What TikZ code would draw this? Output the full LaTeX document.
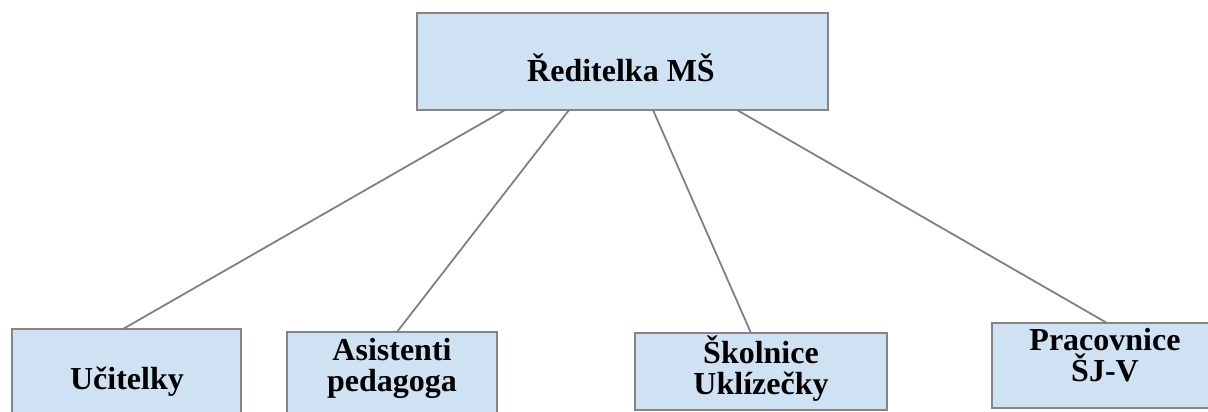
\documentclass[tikz,border=0pt]{standalone}
\usepackage{fontspec}
\setmainfont{Liberation Serif}
\usetikzlibrary{calc}
\definecolor{boxfill}{HTML}{CFE2F3}
\definecolor{boxline}{HTML}{858585}
\definecolor{conline}{HTML}{808080}
\begin{document}
\begin{tikzpicture}[x=1pt,y=1pt,
  orgbox/.style={draw=boxline,fill=boxfill,line width=2pt,rectangle,inner sep=0pt,outer sep=0pt},
  lbl/.style={font=\bfseries\fontsize{32}{31}\selectfont,align=center,inner sep=0pt,anchor=base},
  con/.style={draw=conline,line width=1.8pt}]
\useasboundingbox (0,0) rectangle (1208,412);
\clip (0,0) rectangle (1208,412);
% boxes (y_tikz = 412 - y_px)
\node[orgbox,minimum width=411pt,minimum height=97pt,anchor=south west] (top) at (417,302) {};
\node[orgbox,minimum width=229pt,minimum height=140pt,anchor=north west] (uc) at (12,83) {};
\node[orgbox,minimum width=210pt,minimum height=140pt,anchor=north west] (as) at (287,80) {};
\node[orgbox,minimum width=252pt,minimum height=77pt,anchor=north west] (sk) at (635,79) {};
\node[orgbox,minimum width=226pt,minimum height=85pt,anchor=north west] (pr) at (992,89) {};
% texts
\node[lbl] (ttop) at (621,330) {Ředitelka MŠ};
\node[lbl] (tuc) at (127,22) {Učitelky};
\node[lbl] (tas) at (392,20) {Asistenti\\pedagoga};
\node[lbl] (tsk) at (761,17) {Školnice\\Uklízečky};
\node[lbl] (tpr) at (1105,30) {Pracovnice\\ŠJ-V};
% connectors
\draw[con] ([xshift=88pt]top.south west) -- ([xshift=111pt]uc.north west);
\draw[con] ([xshift=152pt]top.south west) -- ([xshift=110pt]as.north west);
\draw[con] ([xshift=236pt]top.south west) -- ([xshift=116pt]sk.north west);
\draw[con] ([xshift=320pt]top.south west) -- ([xshift=115pt]pr.north west);
\end{tikzpicture}
\end{document}
